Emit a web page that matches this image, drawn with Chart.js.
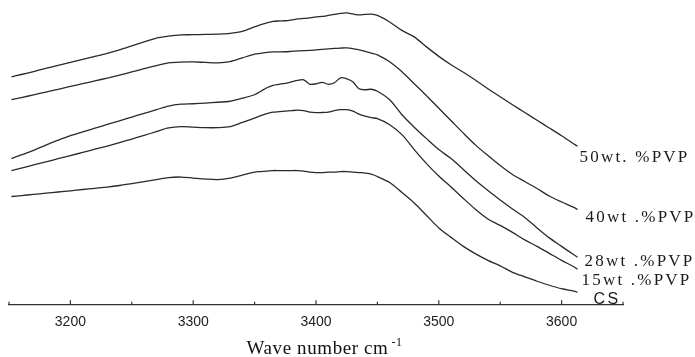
<!DOCTYPE html>
<html><head><meta charset="utf-8">
<script src="https://cdn.jsdelivr.net/npm/chart.js@4.4.1/dist/chart.umd.min.js"></script>
<style>html,body{margin:0;padding:0;background:#fff}#wrap{width:695px;height:357px;position:relative}</style>
</head><body><div id="wrap"><canvas id="c"></canvas></div>
<script>
// Wavenumber grid (cm-1)
const wavenumbers = [3152,3160,3170,3180,3190,3200,3210,3220,3230,3240,3250,3260,3270,3280,3290,3300,3310,3320,3330,3340,3350,3355,3360,3365,3370,3375,3380,3385,3390,3395,3400,3405,3410,3415,3420,3425,3430,3435,3440,3445,3450,3460,3470,3480,3490,3500,3510,3520,3530,3540,3550,3560,3570,3580,3590,3600,3610,3613];
// Relative intensity (arbitrary units)
const pvp50 = [228,230.3,233.3,236.4,239.4,242.5,245.5,248.5,251.6,255.1,259,262.9,266.8,268.7,270,270.2,270.5,270.8,271.5,273.5,278,280.2,282,283.5,284,284.2,285,286,286.5,287,288,288.5,289.5,290.5,291.5,292,291,290,290.5,290.8,289.5,283,274.5,268,258,248.5,240,232.5,224.5,216,208,200,192.2,184.4,176.7,168.9,160.7,158.3];
const pvp40 = [205,207.1,209.9,212.7,215.5,218.3,221.1,223.9,226.7,229.7,232.9,236.1,239.2,242,242.8,242.9,242.4,242,243.2,247,250.7,251.5,252.5,253,253,253.1,253.5,253.9,254.2,254.5,255,255.5,256,256.4,256.8,257,256.3,255,253.5,251.7,250,243,233,221,209,196.5,184,171.5,159.5,149,139,130,123,116,108.5,102.5,97,95];
const pvp28 = [146,149.7,154.2,159.5,164.4,169,172.8,176.5,180.2,183.9,187.6,191.3,195,198.7,200.5,201,201.7,202.5,203.5,206.5,210,213.5,217,219.5,220.5,221.5,223,224.5,225,220.5,221,222.5,220.5,222,227,226,223,216,215,215.5,213.5,205,190,177.5,166,155,146,135,124,114,104.5,95.5,87,76.5,66.5,58,49.5,47];
const pvp15 = [134,136.4,139.6,142.7,145.9,149,152.2,155.4,158.5,161.9,165.6,169.3,173,176.7,178,177.5,177,177,178,182.2,186.5,189,191,192.5,193,193.5,194,194.5,194,192.5,192,192.2,192.5,194,195,195,193.5,190.5,188.5,187,186,180,170,155,141,128.5,117.5,106,95,85.5,79,72,64.5,58,51,44,37.5,35];
const cs = [108,108.9,110.1,111.3,112.5,113.7,115,116.2,117.4,119,121,123,125,127,127.5,126.5,125.5,125,126.5,129.5,132.5,133,133.5,134,134,134,134,134,133.5,132.5,132,132,132.5,132.5,133,133,132.5,132,131.5,130.5,128,122,112,101.5,89,76.5,67,58,50.5,44,38.5,32,27.5,23,19,15.5,13,12];
const seriesNames = ["50wt. %PVP","40wt .%PVP","28wt .%PVP","15wt .%PVP","CS"];
const tickValues = [3200,3300,3400,3500,3600];
const minorTickValues = [3150,3250,3350,3450,3550,3650];
const axisTitle = "Wave number cm";
const axisTitleSup = "-1";

const seriesValues = [pvp50,pvp40,pvp28,pvp15,cs];
const labelStyles = [
  {dx:2, dy:16, font:'17px "Liberation Serif"', ls:'2.2px'},
  {dx:8, dy:13, font:'17px "Liberation Serif"', ls:'2.2px'},
  {dx:7, dy:9, font:'17px "Liberation Serif"', ls:'2.2px'},
  {dx:4, dy:16, font:'17px "Liberation Serif"', ls:'2.2px'},
  {dx:16, dy:12, font:'16px "Liberation Sans"', ls:'2.5px'}
];

const decor = {
  id:'decor',
  afterDraw(chart){
    const ctx = chart.ctx, x = chart.scales.x;
    const yA = x.top;
    ctx.save();
    ctx.strokeStyle = '#333'; ctx.lineWidth = 1.2;
    const tick = (v,h)=>{const p = x.getPixelForValue(v); ctx.beginPath(); ctx.moveTo(p,yA); ctx.lineTo(p,yA-h); ctx.stroke();};
    tickValues.forEach(v=>tick(v,4));
    minorTickValues.forEach(v=>tick(v,2.5));
    ctx.fillStyle = '#1a1a1a';
    ctx.textBaseline = 'alphabetic';
    chart.data.datasets.forEach((ds,i)=>{
      const meta = chart.getDatasetMeta(i);
      const last = meta.data[meta.data.length-1];
      const s = labelStyles[i];
      ctx.font = s.font;
      ctx.letterSpacing = s.ls;
      ctx.fillText(ds.label, last.x + s.dx, last.y + s.dy);
    });
    // axis title
    ctx.letterSpacing = '0.6px';
    ctx.fillStyle = '#111';
    ctx.font = '19px "Liberation Serif"';
    const w1 = ctx.measureText(axisTitle).width;
    ctx.font = '12px "Liberation Serif"';
    const w2 = ctx.measureText(axisTitleSup).width;
    const cx = x.getPixelForValue(3407);
    const x0 = cx - (w1 + 3 + w2)/2;
    const base = yA + 50;
    ctx.font = '19px "Liberation Serif"';
    ctx.fillText(axisTitle, x0, base);
    ctx.font = '12px "Liberation Serif"';
    ctx.fillText(axisTitleSup, x0 + w1 + 3, base - 8);
    ctx.restore();
  }
};

new Chart(document.getElementById('c'), {
  type:'line',
  data:{
    datasets: seriesValues.map((vals,i)=>({
      label: seriesNames[i],
      data: wavenumbers.map((w,j)=>({x:w,y:vals[j]})),
      borderColor:'#2a2a2a', borderWidth:1.3, pointRadius:0, tension:0.3, fill:false
    }))
  },
  options:{
    responsive:true, maintainAspectRatio:false, animation:false,
    layout:{padding:{left:9,right:72,top:0,bottom:16.8}},
    plugins:{legend:{display:false}, tooltip:{enabled:false}},
    scales:{
      x:{
        type:'linear', min:3150, max:3650,
        afterBuildTicks: s => { s.ticks = tickValues.map(v=>({value:v})); },
        grid:{display:false, drawTicks:false},
        border:{display:true, color:'#333', width:1.3},
        ticks:{color:'#222', font:{family:'"Liberation Sans"', size:14}, padding:9.6, maxRotation:0, autoSkip:false,
               callback: v => String(v)},
        title:{display:false}
      },
      y:{display:false, min:0, max:305}
    }
  },
  plugins:[decor]
});
</script>
</body></html>
